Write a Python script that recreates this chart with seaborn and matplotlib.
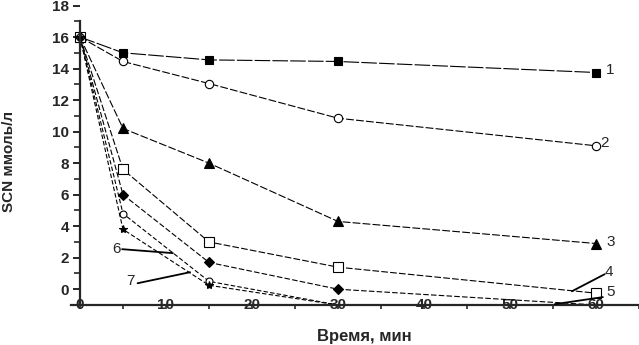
import matplotlib
matplotlib.use("Agg")
import matplotlib.pyplot as plt
import seaborn as sns
import pandas as pd
from matplotlib.ticker import MultipleLocator

sns.set_style("ticks")
plt.rcParams['font.family'] = ['Liberation Sans', 'DejaVu Sans']

time_min = [0, 5, 15, 30, 60]
s1 = [16.0, 15.0, 14.55, 14.45, 13.75]
s2 = [16.0, 14.45, 13.05, 10.85, 9.1]
s3 = [16.0, 10.2, 8.0, 4.3, 2.9]
s4 = [16.0, 7.6, 3.0, 1.4, -0.25]
s5 = [16.0, 6.0, 1.7, 0.0, -1.0]
s6 = [16.0, 4.8, 0.5, -1.0]
s7 = [16.0, 3.8, 0.25, -1.0]
series_labels = ["1", "2", "3", "4", "5", "6", "7"]

fig = plt.figure(figsize=(6.39, 3.45), dpi=100)
ax = fig.add_axes([0.1117, 0.116, 0.8883, 0.868])

styles = [
    (s1, 's', 'black', (0, (14, 2)), 6),
    (s2, 'o', 'white', (0, (7, 2)), 6),
    (s3, '^', 'black', (0, (7, 2)), 6.5),
    (s4, 's', 'white', (0, (6, 2)), 7),
    (s5, 'D', 'black', (0, (5, 2)), 5),
    (s6, 'o', 'white', (0, (4, 2)), 5),
    (s7, '*', 'black', (0, (4, 2)), 6),
]
for vals, mk, fc, ls, ms in styles:
    df = pd.DataFrame({"t": time_min[:len(vals)], "v": vals})
    # markers on the axis line are hidden in the original figure
    shown = [i for i, v in enumerate(vals) if v > -1.0]
    sns.lineplot(data=df, x="t", y="v", ax=ax, color="black", lw=0.8,
                 linestyle=ls, marker=mk, markersize=ms, markerfacecolor=fc,
                 markeredgecolor="black", markeredgewidth=0.8, markevery=shown)

ax.set_xlim(-1, 65)
ax.set_ylim(-1, 18)
ax.spines['top'].set_visible(False)
ax.spines['right'].set_visible(False)
ax.spines['left'].set_position(('data', 0))
ax.spines['left'].set_bounds(-1, 17)
ax.spines['left'].set_linewidth(1.6)
ax.spines['bottom'].set_linewidth(1.6)
ax.set_xticks([0, 10, 20, 30, 40, 50, 60])
ax.xaxis.set_minor_locator(MultipleLocator(5))
ax.set_yticks(list(range(0, 19, 2)))
ax.yaxis.set_minor_locator(MultipleLocator(1))
ax.tick_params(axis='y', which='major', length=5, width=1.4, labelsize=11, pad=3)
ax.tick_params(axis='y', which='minor', length=4, width=1.2)
ax.tick_params(axis='x', which='major', length=3, width=1.2, labelsize=11, pad=-8)
ax.tick_params(axis='x', which='minor', length=3, width=1.2)
for t in ax.get_xticklabels() + ax.get_yticklabels():
    t.set_fontweight('bold')
ax.set_xlabel("")
ax.set_ylabel("")

fig.text(364/639, 1 - 336/345, "Время, мин", ha='center', va='center',
         fontsize=12, fontweight='bold')
fig.text(9/639, 1 - 161/345, "SCN ммоль/л", ha='center', va='center',
         rotation=90, fontsize=11, fontweight='bold')

# series labels
ax.text(61.7, 13.9, series_labels[0], fontsize=11, va='center', ha='center')
ax.text(61.0, 9.3, series_labels[1], fontsize=11, va='center', ha='center')
ax.text(61.7, 3.0, series_labels[2], fontsize=11, va='center', ha='center')
ax.text(61.5, 1.1, series_labels[3], fontsize=11, va='center', ha='center')
ax.text(61.7, -0.2, series_labels[4], fontsize=11, va='center', ha='center')
ax.text(4.3, 2.55, series_labels[5], fontsize=11, va='center', ha='center')
ax.text(5.9, 0.55, series_labels[6], fontsize=11, va='center', ha='center')
leaders = [((61.0, 0.95), (57.2, -0.13)),
           ((60.8, -0.5), (55.2, -0.95)),
           ((4.9, 2.54), (10.8, 2.29)),
           ((6.7, 0.38), (12.8, 1.08))]
for (x0, y0), (x1, y1) in leaders:
    ax.annotate("", xy=(x1, y1), xytext=(x0, y0),
                arrowprops=dict(arrowstyle='-', color='black', lw=1.3,
                                shrinkA=0, shrinkB=0))

fig.savefig("out.png", dpi=100)
